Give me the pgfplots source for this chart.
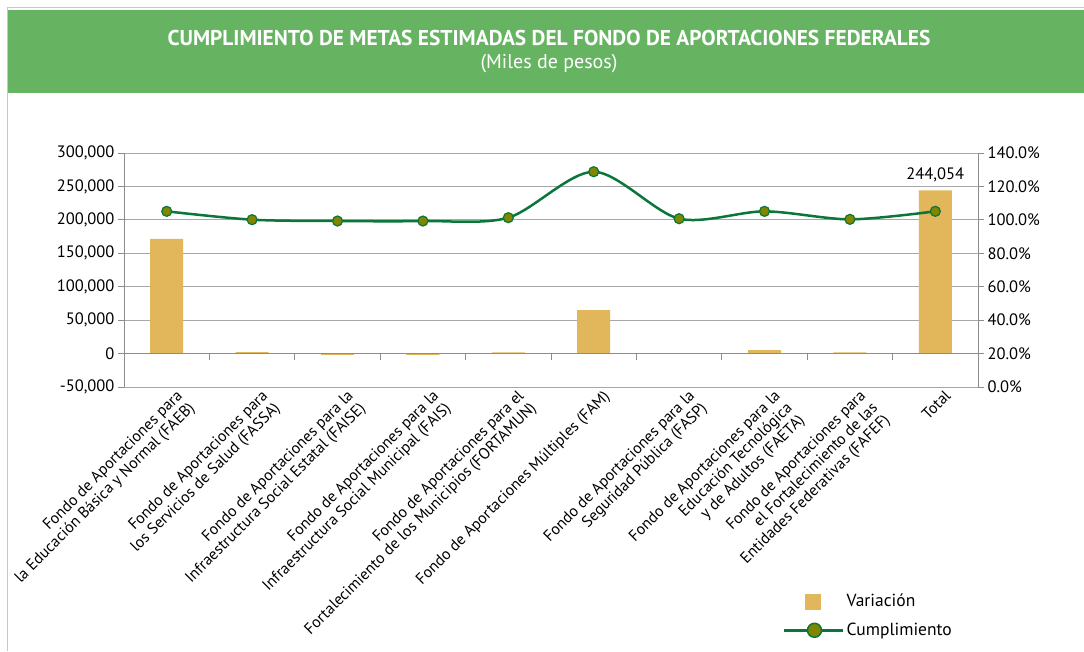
\documentclass[border=0pt]{standalone}
\usepackage{pgfplots}
\pgfplotsset{compat=1.18}
\usepackage{fontspec}
\setmainfont{PT Sans}
\definecolor{band}{HTML}{66B462}
\definecolor{barc}{HTML}{E2B65A}
\definecolor{linec}{HTML}{0A763A}
\definecolor{markc}{HTML}{7F8600}
\definecolor{gridc}{HTML}{A8A8A8}
\definecolor{axc}{HTML}{8C8C8C}
\begin{document}
\begin{tikzpicture}
\useasboundingbox (0pt,0pt) rectangle (1084pt,651pt);
\fill[white] (0pt,0pt) rectangle (1084pt,651pt);
\draw[black!22, line width=1pt] (7pt,0pt) -- (7pt,643pt) -- (1084pt,643pt);
\fill[band] (8pt,558pt) rectangle (1084pt,641pt);
\node[white, inner sep=0pt] at (549pt,613pt) {\fontsize{21.4}{23}\selectfont\bfseries CUMPLIMIENTO DE METAS ESTIMADAS DEL FONDO DE APORTACIONES FEDERALES};
\node[white, inner sep=0pt] at (549pt,587pt) {\fontsize{20}{22}\selectfont (Miles de pesos)};

\begin{axis}[
  at={(124pt,264pt)}, anchor=south west, width=854pt, height=234pt, scale only axis,
  xmin=-0.5, xmax=9.5, ymin=-50000, ymax=300000,
  ytick={-50000,0,50000,100000,150000,200000,250000,300000},
  yticklabels={{-50,000},{0},{50,000},{100,000},{150,000},{200,000},{250,000},{300,000}},
  scaled y ticks=false,
  axis y line*=left, axis x line*=bottom,
  x axis line style={draw=none},
  y axis line style={axc, line width=1pt},
  ytick style={axc, line width=1pt},
  xtick style={draw=none},
  tick align=outside, major tick length=6pt,
  ymajorgrids, grid style={gridc, line width=1pt},
  tick label style={font=\fontsize{16.5}{17}\selectfont},
  xtick={0,...,9},
  xticklabels={{Fondo de Aportaciones para\\la Educación Básica y Normal (FAEB)},
    {Fondo de Aportaciones para\\los Servicios de Salud (FASSA)},
    {Fondo de Aportaciones para la\\Infraestructura Social Estatal (FAISE)},
    {Fondo de Aportaciones para la\\Infraestructura Social Municipal (FAIS)},
    {Fondo de Aportaciones para el\\Fortalecimiento de los Municipios (FORTAMUN)},
    {Fondo de Aportaciones Múltiples (FAM)},
    {Fondo de Aportaciones para la\\Seguridad Pública (FASP)},
    {Fondo de Aportaciones para la\\Educación Tecnológica\\y de Adultos (FAETA)},
    {Fondo de Aportaciones para\\el Fortalecimiento de las\\Entidades Federativas (FAFEF)},
    {Total}},
  xticklabel style={rotate=45, anchor=north east, align=right, inner sep=0pt, xshift=9pt, yshift=-3pt, font=\fontsize{15.8}{17}\selectfont},
  ybar, bar width=33pt,
]
\addplot[fill=barc, draw=none] coordinates {(0,171500) (1,2300) (2,-1800) (3,-1900) (4,1800) (5,64854) (6,300) (7,5200) (8,1800) (9,244054)};
\draw[axc, line width=1pt] (axis cs:-0.5,0) -- (axis cs:9.5,0);
\pgfplotsinvokeforeach{0.5,1.5,2.5,3.5,4.5,5.5,6.5,7.5,8.5}{\draw[axc, line width=1pt] (axis cs:#1,0) -- ([yshift=-6pt]axis cs:#1,0);}
\node[above, inner sep=0pt, yshift=8pt, font=\fontsize{16.5}{17}\selectfont] at (axis cs:9,244054) {244,054};
\end{axis}

\begin{axis}[
  at={(124pt,264pt)}, anchor=south west, width=854pt, height=234pt, scale only axis,
  xmin=-0.5, xmax=9.5, ymin=0, ymax=140,
  ytick={0,20,40,60,80,100,120,140},
  yticklabels={{0.0\%},{20.0\%},{40.0\%},{60.0\%},{80.0\%},{100.0\%},{120.0\%},{140.0\%}},
  axis y line*=right, axis x line=none,
  y axis line style={axc, line width=1pt},
  ytick style={axc, line width=1pt},
  tick align=outside, major tick length=6pt,
  tick label style={font=\fontsize{16.5}{17}\selectfont},
  legend style={at={(axis description cs:0.7717,-0.876)}, anchor=north west, draw=none, fill=none, inner sep=0pt,
     font=\fontsize{17.5}{18}\selectfont, row sep=11pt, cells={anchor=west}},
]
\addlegendimage{legend image code/.code={\fill[barc] (21pt,-7.5pt) rectangle (36pt,7.5pt);}}
\addlegendentry{Variación}
\addplot[linec, line width=2.5pt, smooth, tension=0.5, mark=*, mark size=5pt,
  mark options={fill=markc, draw=linec, line width=1.2pt},
  legend image code/.code={\draw[linec, line width=2.5pt] (0pt,0pt) -- (59pt,0pt); \draw[fill=markc, draw=linec, line width=1.5pt] (30pt,0pt) circle (7pt);}]
  coordinates {(0,105.1) (1,100.1) (2,99.3) (3,99.3) (4,101.3) (5,128.8) (6,100.7) (7,105.1) (8,100.3) (9,105.1)};
\addlegendentry{Cumplimiento}
\end{axis}
\end{tikzpicture}
\end{document}
